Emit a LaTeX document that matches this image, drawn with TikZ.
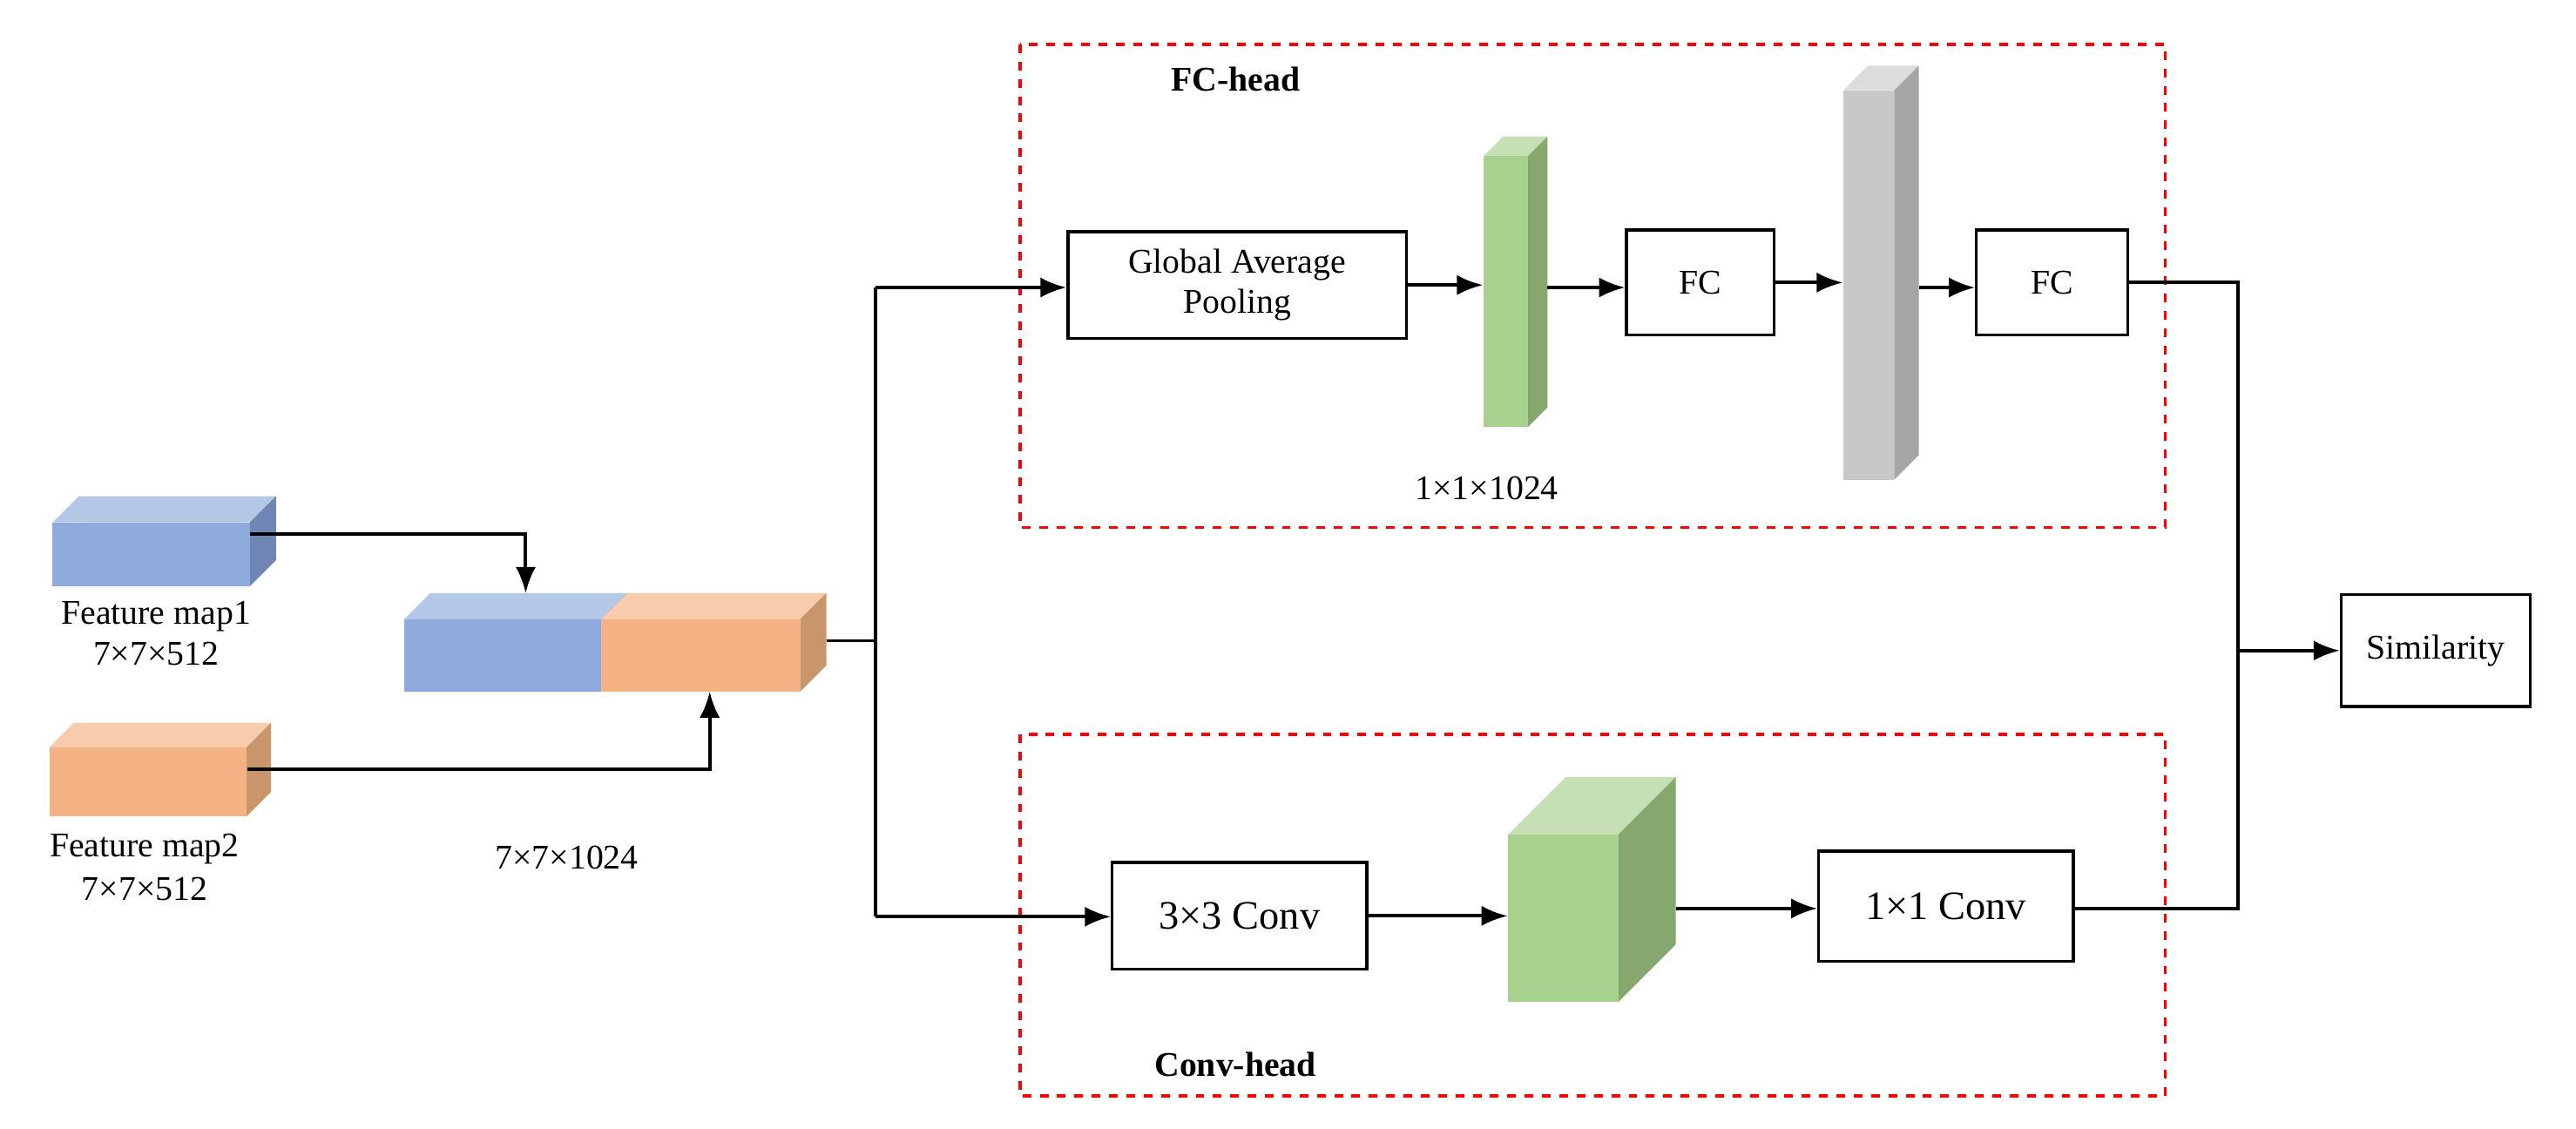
\documentclass[tikz,border=0pt]{standalone}
\usepackage{fontspec}
\setmainfont{Liberation Serif}
\usetikzlibrary{arrows.meta}
\newcommand\mycube[9]{%
 \fill[#8] (#2,#3)--(#2+#6,#3-#6)--(#4+#6,#3-#6)--(#4,#3)--cycle;
 \fill[#9] (#4,#3)--(#4+#6,#3-#6)--(#4+#6,#5-#6)--(#4,#5)--cycle;
 \node[fill=#7,inner sep=0,minimum width={(#4-#2)*0.02cm},minimum height={(#5-#3)*0.02cm}] (#1) at ({(#2+#4)/2},{(#3+#5)/2}) {};}
\definecolor{bf}{HTML}{8FAADC}\definecolor{bt}{HTML}{B4C7E7}\definecolor{bs}{HTML}{6F86B5}
\definecolor{of}{HTML}{F4B183}\definecolor{ot}{HTML}{F8CBAD}\definecolor{os}{HTML}{C9956A}
\definecolor{gf}{HTML}{A9D18E}\definecolor{gt}{HTML}{C5E0B4}\definecolor{gs}{HTML}{86A86F}
\definecolor{yf}{HTML}{C8C8C8}\definecolor{yt}{HTML}{DCDCDC}\definecolor{ys}{HTML}{A5A5A5}
\tikzset{box/.style={draw,line width=1pt,align=center,inner sep=0},
 arr/.style={line width=1.2pt,-{Latex[length=9pt,width=7pt]}},
 ln/.style={line width=1.2pt},
 head/.style={draw=red,dashed,line width=1.1pt},
 txt/.style={font=\fontsize{12}{14}\selectfont}}
\begin{document}
\begin{tikzpicture}[x=0.02cm,y=-0.02cm,font=\fontsize{12}{14}\selectfont]
\useasboundingbox (0,0) rectangle (1568,687);
\mycube{f1}{32}{318}{152}{357}{16}{bf}{bt}{bs}
\mycube{f2}{30}{455}{150}{497}{15}{of}{ot}{os}
\mycube{cb}{246}{377}{366}{421}{16}{bf}{bt}{bs}
\mycube{co}{366}{377}{487}{421}{16}{of}{ot}{os}
\node (l1) at (95,375) {Feature map1};
\node (l1b) at (95,398) {7×7×512};
\node (l2) at (88,517) {Feature map2};
\node (l2b) at (88,541) {7×7×512};
\node (l3) at (345,522) {7×7×1024};
\draw[head] (621,27) rectangle (1318,321);
\draw[head] (621,447) rectangle (1318,667);
\node[font=\fontsize{12}{14}\selectfont\bfseries] (h1) at (752,48) {FC-head};
\node[font=\fontsize{12}{14}\selectfont\bfseries] (h2) at (752,648) {Conv-head};
\node[box,minimum width=4.12cm,minimum height=1.3cm] (gap) at (753,173.5) {Global Average\\Pooling};
\mycube{g1}{903}{95}{930}{260}{12}{gf}{gt}{gs}
\node (l4) at (905,297) {1×1×1024};
\node[box,minimum width=1.8cm,minimum height=1.28cm] (fc1) at (1035,172) {FC};
\mycube{g2}{1122}{55}{1153}{292}{15}{yf}{yt}{ys}
\node[box,minimum width=1.84cm,minimum height=1.28cm] (fc2) at (1249,172) {FC};
\node[box,minimum width=2.3cm,minimum height=1.36cm] (sim) at (1482.5,396) {Similarity};
\node[box,minimum width=3.1cm,minimum height=1.3cm,font=\fontsize{14}{16}\selectfont] (c3) at (754.5,557.5) {3×3 Conv};
\mycube{g3}{918}{508}{985}{610}{35}{gf}{gt}{gs}
\node[box,minimum width=3.1cm,minimum height=1.34cm,font=\fontsize{14}{16}\selectfont] (c1) at (1184.5,551.5) {1×1 Conv};
\coordinate (sp) at (533,390);
\draw[arr] (f1.east|-0,325) -- (320,325) -- (320,361);
\draw[arr] (f2.east|-0,468) -- (432,468) -- (432,421);
\draw[ln] (503,390) -- (sp);
\draw[arr] (533,175) -- (gap.west|-0,175);
\draw[ln] (533,175) -- (533,558);
\draw[arr] (533,558) -- (c3.west|-0,558);
\draw[arr] (gap.east) -- (g1.west|-gap.east);
\draw[arr] (942,175) -- (fc1.west|-0,175);
\draw[arr] (fc1.east) -- (g2.west|-fc1.east);
\draw[arr] (1168,175) -- (fc2.west|-0,175);
\draw[ln] (fc2.east) -- (1362,172) -- (1362,553) -- (c1.east|-0,553);
\draw[arr] (1362,396) -- (sim.west);
\draw[arr] (c3.east) -- (g3.west|-c3.east);
\draw[arr] (1020,553) -- (c1.west|-0,553);
\end{tikzpicture}
\end{document}
